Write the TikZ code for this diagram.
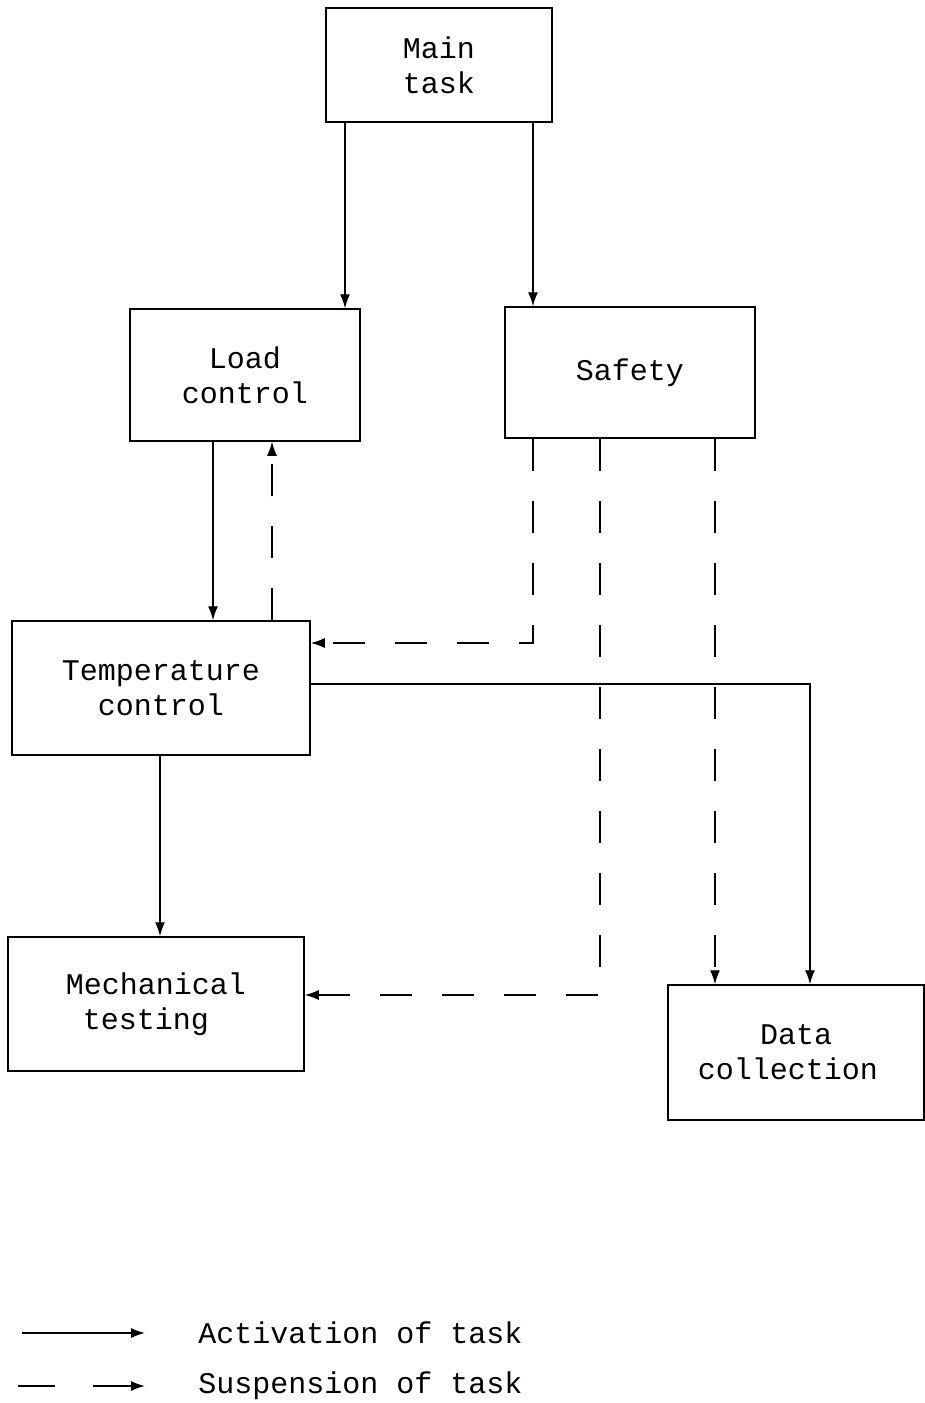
\documentclass[tikz,border=0pt]{standalone}
\usepackage{fontspec}
\setmonofont{Liberation Mono}
\usetikzlibrary{arrows.meta}
\begin{document}
\begin{tikzpicture}[x=0.5pt,y=-0.5pt,
  box/.style={draw,line width=0.75pt,inner sep=0pt,align=center,
    font=\ttfamily\fontsize{15}{17.5}\selectfont},
  txt/.style={inner sep=0pt,anchor=west,font=\ttfamily\fontsize{15}{17}\selectfont},
  act/.style={line width=0.7pt,-{Latex[length=7pt,width=5pt]}},
  susp/.style={act,dash pattern=on 16pt off 15pt}]
\useasboundingbox (0,0) rectangle (925,1403);
% boxes
\node[box,minimum width=113pt,minimum height=57pt] (main) at (439,65) {\raisebox{-3pt}{Main}\\\raisebox{-3pt}{task}};
\node[box,minimum width=115pt,minimum height=66pt] (load) at (245,375) {Load\\control};
\node[box,minimum width=125pt,minimum height=65.5pt] (safety) at (630,372.5) {\raisebox{-4pt}{Safety}};
\node[box,minimum width=149pt,minimum height=67pt] (temp) at (161,688) {Temperature\\control};
\node[box,minimum width=148pt,minimum height=67pt] (mech) at (156,1004) {Mechanical\\testing\hspace*{10pt}};
\node[box,minimum width=128pt,minimum height=67.5pt] (data) at (796,1052.5) {Data\\collection\hspace*{8pt}};
% columns and rows
\coordinate (c345) at (345,0);
\coordinate (c533) at (533,0);
\coordinate (c213) at (213,0);
\coordinate (c272) at (272,0);
\coordinate (c160) at (160,0);
\coordinate (c600) at (600,0);
\coordinate (c715) at (715,0);
\coordinate (c810) at (810,0);
\coordinate (r643) at (0,643);
\coordinate (r684) at (0,684);
\coordinate (r995) at (0,995);
% activation
\draw[act] (c345 |- main.south) -- (c345 |- load.north);
\draw[act] (c533 |- main.south) -- (c533 |- safety.north);
\draw[act] (c213 |- load.south) -- (c213 |- temp.north);
\draw[act] (c160 |- temp.south) -- (c160 |- mech.north);
\draw[act] (temp.east |- r684) -- (c810 |- r684) -- (c810 |- data.north);
% suspension
\draw[susp] (c272 |- temp.north) -- (c272 |- load.south);
\draw[susp] (c533 |- safety.south) -- (c533 |- r643) -- (temp.east |- r643);
\draw[susp] (c600 |- safety.south) -- (c600 |- r995) -- (mech.east |- r995);
\draw[susp] (c715 |- safety.south) -- (c715 |- data.north);
% legend
\coordinate (la) at (22,1333);
\coordinate (lb) at (145,1333);
\coordinate (lc) at (18,1386);
\coordinate (ld) at (145,1386);
\draw[act] (la) -- (lb);
\draw[act,dash pattern=on 18.5pt off 19pt on 40pt] (lc) -- (ld);
\node[txt] (t1) at (198,1333) {Activation of task};
\node[txt] (t2) at (198,1386) {Suspension of task};
\end{tikzpicture}
\end{document}
